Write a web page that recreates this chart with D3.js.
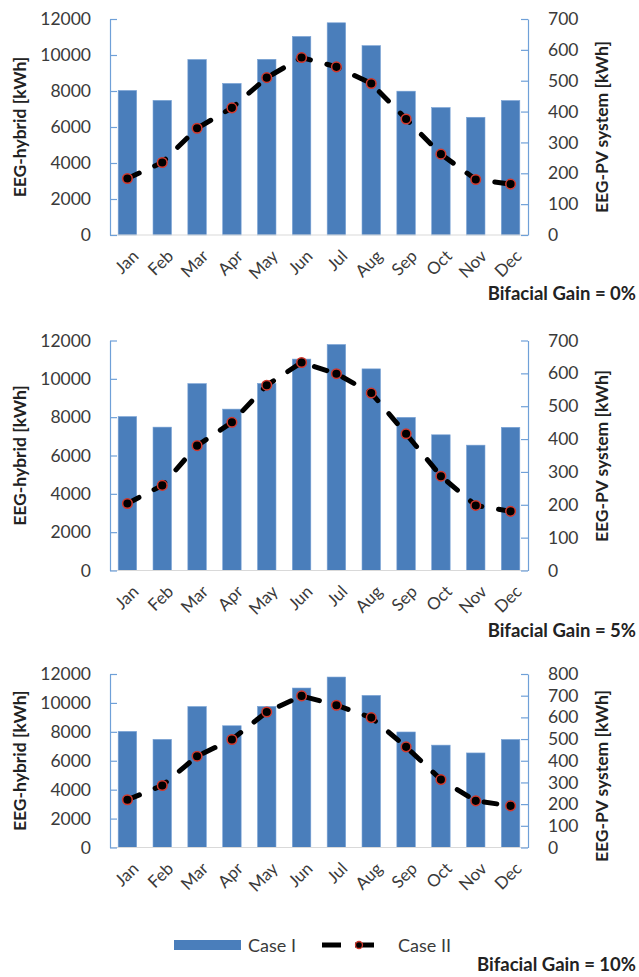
<!DOCTYPE html>
<html><head><meta charset="utf-8">
<script src="https://cdn.jsdelivr.net/npm/d3@7"></script>
<style>
body{margin:0;background:#fff;}
svg{display:block;font-family:Lato, "Open Sans", sans-serif;}
</style></head>
<body>
<svg id="c" width="639" height="977"></svg>
<script>
const months = ["Jan","Feb","Mar","Apr","May","Jun","Jul","Aug","Sep","Oct","Nov","Dec"];
const caseI = [8030, 7480, 9750, 8420, 9760, 11030, 11790, 10520, 7990, 7080, 6540, 7470];
const caseII_gain0 = [183, 235, 346, 412, 510, 575, 545, 491, 376, 262, 180, 165];
const caseII_gain5 = [204, 259, 380, 451, 564, 633, 599, 540, 416, 287, 198, 180];
const caseII_gain10 = [220, 286, 421, 498, 625, 699, 656, 599, 464, 313, 215, 192];
const leftTicks = [0, 2000, 4000, 6000, 8000, 10000, 12000];
const rightTicks700 = [0, 100, 200, 300, 400, 500, 600, 700];
const rightTicks800 = [0, 100, 200, 300, 400, 500, 600, 700, 800];
const gainLabels = ["Bifacial Gain = 0%", "Bifacial Gain = 5%", "Bifacial Gain = 10%"];
const seriesNames = ["Case I", "Case II"];

const svg = d3.select("#c");
const X0 = 110, X1 = 528;
const barColor = "#4a7ebb", axisBlue = "#6fa0d8", tickColor = "#3a3a3a";

const panels = [
  {top:19, bottom:235, rMax:700, rTicks:rightTicks700, line:caseII_gain0, label:gainLabels[0], labelY:300, rTitleY:127},
  {top:340.5, bottom:570.5, rMax:700, rTicks:rightTicks700, line:caseII_gain5, label:gainLabels[1], labelY:637, rTitleY:456},
  {top:674, bottom:847.5, rMax:800, rTicks:rightTicks800, line:caseII_gain10, label:gainLabels[2], labelY:971, rTitleY:776}
];

const x = d3.scaleBand().domain(months).range([X0, X1]).paddingInner(0.47).paddingOuter(0.235);

panels.forEach(p => {
  const g = svg.append("g");
  const yL = d3.scaleLinear().domain([0, 12000]).range([p.bottom, p.top]);
  const yR = d3.scaleLinear().domain([0, p.rMax]).range([p.bottom, p.top]);

  g.selectAll("rect.bar").data(caseI).join("rect")
    .attr("x", (d,i) => x(months[i])).attr("width", x.bandwidth())
    .attr("y", d => yL(d)).attr("height", d => p.bottom - yL(d))
    .attr("fill", barColor).attr("stroke", "#7aa3d6").attr("stroke-width", 0.6);

  g.append("line").attr("x1", X0).attr("x2", X1).attr("y1", p.bottom).attr("y2", p.bottom)
    .attr("stroke", "#d9d9d9").attr("stroke-width", 1.2);

  const aL = g.append("g").attr("transform", `translate(${X0},0)`)
    .call(d3.axisLeft(yL).tickValues(leftTicks).tickFormat(d3.format("d")).tickSizeInner(-7).tickSizeOuter(0).tickPadding(19));
  aL.select(".domain").attr("stroke", axisBlue).attr("stroke-width", 1.2);
  aL.selectAll(".tick line").attr("stroke", axisBlue).attr("stroke-width", 1.2);
  aL.selectAll(".tick text").attr("fill", tickColor).attr("font-size", 17.5).attr("font-family", "Lato, sans-serif");

  const aR = g.append("g").attr("transform", `translate(${X1},0)`)
    .call(d3.axisRight(yR).tickValues(p.rTicks).tickSizeInner(-7).tickSizeOuter(0).tickPadding(20));
  aR.select(".domain").attr("stroke", axisBlue).attr("stroke-width", 1.2);
  aR.selectAll(".tick line").attr("stroke", axisBlue).attr("stroke-width", 1.2);
  aR.selectAll(".tick text").attr("fill", tickColor).attr("font-size", 17.5).attr("font-family", "Lato, sans-serif");

  g.selectAll("text.m").data(months).join("text")
    .attr("transform", d => `translate(${x(d) + x.bandwidth()/2 + 8},${p.bottom + 18}) rotate(-45)`)
    .attr("text-anchor", "end").attr("dy", "0.35em")
    .attr("fill", tickColor).attr("font-size", 17).text(d => d);

  const lineGen = d3.line().x((d,i) => x(months[i]) + x.bandwidth()/2).y(d => yR(d));
  g.append("path").datum(p.line).attr("d", lineGen)
    .attr("fill", "none").attr("stroke", "#000").attr("stroke-width", 5)
    .attr("stroke-dasharray", "13 17").attr("stroke-linecap", "round");
  g.selectAll("circle.pt").data(p.line).join("circle")
    .attr("cx", (d,i) => x(months[i]) + x.bandwidth()/2).attr("cy", d => yR(d))
    .attr("r", 4.8).attr("fill", "#000").attr("stroke", "#d23a2e").attr("stroke-width", 1.5);

  g.append("text").attr("transform", `translate(26,${(p.top+p.bottom)/2}) rotate(-90)`)
    .attr("text-anchor", "middle").attr("font-weight", "bold").attr("font-size", 17.5)
    .attr("fill", "#222").text("EEG-hybrid [kWh]");
  g.append("text").attr("transform", `translate(608,${p.rTitleY}) rotate(-90)`)
    .attr("text-anchor", "middle").attr("font-weight", "bold").attr("font-size", 17.5)
    .attr("fill", "#222").text("EEG-PV system [kWh]");

  g.append("text").attr("x", 636).attr("y", p.labelY).attr("text-anchor", "end")
    .attr("font-weight", "bold").attr("font-size", 18.5).attr("fill", "#222").text(p.label);
});

const lg = svg.append("g");
lg.append("rect").attr("x", 174).attr("y", 940).attr("width", 67).attr("height", 10).attr("fill", barColor);
lg.append("text").attr("x", 248).attr("y", 951.5).attr("font-size", 18).attr("fill", tickColor).text(seriesNames[0]);
lg.append("line").attr("x1", 322).attr("x2", 388).attr("y1", 945).attr("y2", 945)
  .attr("stroke", "#000").attr("stroke-width", 5).attr("stroke-dasharray", "19 14").attr("stroke-linecap", "butt");
lg.append("circle").attr("cx", 359).attr("cy", 945).attr("r", 3.5).attr("fill", "#000").attr("stroke", "#d23a2e").attr("stroke-width", 1.3);
lg.append("text").attr("x", 398).attr("y", 951.5).attr("font-size", 18).attr("fill", tickColor).text(seriesNames[1]);
</script>
</body></html>
